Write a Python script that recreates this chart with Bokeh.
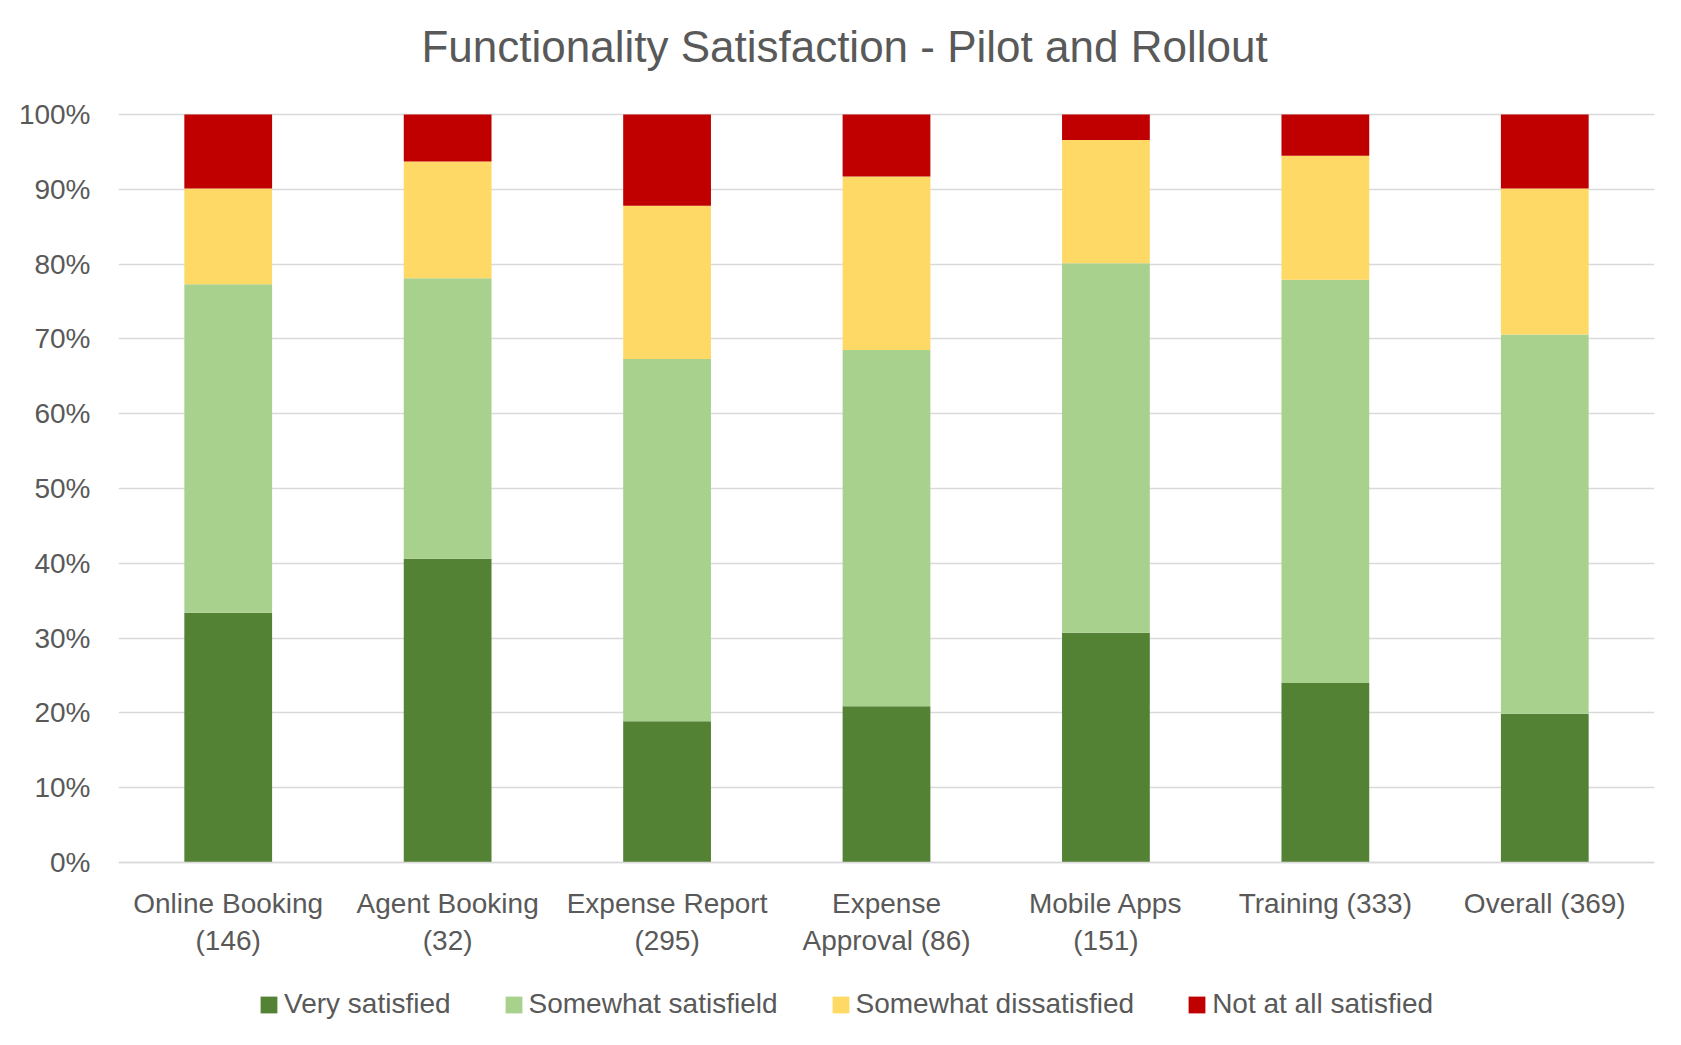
from bokeh.plotting import figure
from bokeh.models import Range1d, FixedTicker, NumeralTickFormatter, Legend, LegendItem, ColumnDataSource, Label
from bokeh.embed import file_html
from bokeh.resources import INLINE

categories = ["Online Booking\n(146)", "Agent Booking\n(32)", "Expense Report\n(295)",
              "Expense\nApproval (86)", "Mobile Apps\n(151)", "Training (333)", "Overall (369)"]
series_names = ["Very satisfied", "Somewhat satisfield", "Somewhat dissatisfied", "Not at all satisfied"]
very_satisfied = [33.4, 40.6, 18.9, 20.9, 30.7, 24.0, 19.9]
somewhat_satisfied = [43.9, 37.5, 48.4, 47.6, 49.4, 53.9, 50.7]
somewhat_dissatisfied = [12.8, 15.6, 20.5, 23.2, 16.5, 16.6, 19.5]
not_at_all_satisfied = [9.9, 6.3, 12.2, 8.3, 3.4, 5.5, 9.9]
y_ticks = [0, 10, 20, 30, 40, 50, 60, 70, 80, 90, 100]
title_text = "Functionality Satisfaction - Pilot and Rollout"

colors = ["#548235", "#A9D18E", "#FFD966", "#C00000"]
keys = ["vs", "ss", "sd", "na"]
FONT = "Liberation Sans"
GRAY = "#595959"

# layout in pixels: 100% line at 114, 0% line at 862, frame bottom at 1040
PX100, PX0, BOTTOM = 114, 862, 1040
UNIT = PX0 - PX100
y_end = PX0 / UNIT
y_start = -(BOTTOM - PX0) / UNIT

src = ColumnDataSource(dict(
    cat=categories,
    vs=[v / 100 for v in very_satisfied],
    ss=[v / 100 for v in somewhat_satisfied],
    sd=[v / 100 for v in somewhat_dissatisfied],
    na=[v / 100 for v in not_at_all_satisfied],
))

p = figure(x_range=categories, y_range=Range1d(y_start, y_end), width=1681, height=1045,
           output_backend="svg", toolbar_location=None,
           min_border_left=118, min_border_right=27, min_border_top=0,
           min_border_bottom=1045 - BOTTOM)
p.outline_line_color = None
p.background_fill_color = "white"
p.border_fill_color = "white"

renderers = p.vbar_stack(keys, x="cat", width=0.4, color=colors, line_color=None, source=src)

# chart title, centred at x = 844 px
title = Label(x=(844 - 118) / (1536 / 7), y=(PX0 - 46) / UNIT, text=title_text,
              text_align="center", text_baseline="alphabetic",
              text_font=FONT, text_font_size="44px", text_color=GRAY)
p.add_layout(title)

p.xgrid.grid_line_color = None
p.ygrid.grid_line_color = "#D9D9D9"
p.ygrid.grid_line_width = 1.3

p.yaxis.ticker = FixedTicker(ticks=[t / 100 for t in y_ticks])
p.yaxis.formatter = NumeralTickFormatter(format="0%")
p.yaxis.axis_line_color = None
p.yaxis.major_tick_line_color = None
p.yaxis.minor_tick_line_color = None
p.yaxis.major_tick_out = 0
p.yaxis.major_label_standoff = 28
p.yaxis.major_label_text_font = FONT
p.yaxis.major_label_text_font_size = "28px"
p.yaxis.major_label_text_color = GRAY

p.xaxis.fixed_location = 0
p.xaxis.axis_line_color = "#D9D9D9"
p.xaxis.axis_line_width = 1.3
p.xaxis.major_tick_line_color = None
p.xaxis.minor_tick_line_color = None
p.xaxis.major_tick_out = 0
p.xaxis.major_label_standoff = 25
p.xaxis.major_label_text_font = FONT
p.xaxis.major_label_text_font_size = "28px"
p.xaxis.major_label_text_color = GRAY

legend = Legend(items=[LegendItem(label=n, renderers=[r]) for n, r in zip(series_names, renderers)],
                orientation="horizontal", location=(140, 20))
legend.padding = 0
legend.margin = 0
legend.spacing = 52
legend.glyph_width = 21
legend.glyph_height = 21
legend.label_standoff = 5
legend.label_height = 30
legend.label_text_font = FONT
legend.label_text_font_size = "28px"
legend.label_text_color = GRAY
legend.background_fill_alpha = 0
legend.border_line_color = None
p.add_layout(legend, "center")

open("out.html", "w").write(file_html(p, INLINE))
